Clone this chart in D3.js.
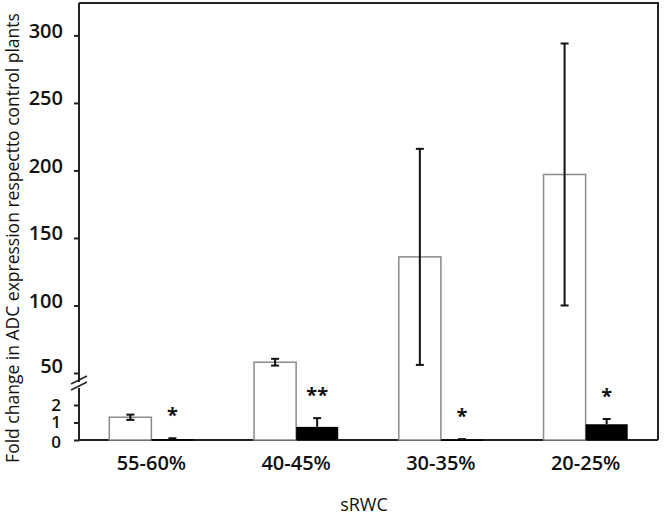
<!DOCTYPE html>
<html>
<head>
<meta charset="utf-8">
<script src="https://cdn.jsdelivr.net/npm/d3@7"></script>
<style>
  html, body { margin: 0; padding: 0; background: #fff; }
  svg text { font-family: "Open Sans", "DejaVu Sans", sans-serif; fill: #111; }
</style>
</head>
<body>
<div id="chart"></div>
<script>
// ── Data ─────────────────────────────────────────
const categories   = ["55-60%", "40-45%", "30-35%", "20-25%"];
const series       = ["control", "treated"];
const controlMean  = [1.3, 58, 136, 197];
const controlErr   = [0.15, 2.5, 80, 97];
const treatedMean  = [0.05, 0.75, 0.03, 0.9];
const treatedErr   = [0.05, 0.5, 0.02, 0.3];
const signif       = ["*", "**", "*", "*"];
const lowTicks     = [0, 1, 2];
const highTicks    = [50, 100, 150, 200, 250, 300];

// ── Layout ───────────────────────────────────────
const W = 664, H = 519;
const mLeft = 79, mRight = 658, mTop = 3, base = 440;

const svg = d3.select("#chart").append("svg")
  .attr("width", W).attr("height", H);

const x = d3.scaleBand().domain(categories).range([mLeft, mRight]).padding(0);
const xs = d3.scaleBand().domain(series).range([0, x.bandwidth()])
  .paddingInner(0).paddingOuter(0.72);

// broken y axis: two linear pieces
const yLow  = d3.scaleLinear().domain([0, 2]).range([base, 405]);
const yHigh = d3.scaleLinear().domain([50, 324]).range([373, mTop]);
const y = v => v <= 2.5 ? yLow(v) : yHigh(v);

// frame (top + right)
svg.append("path")
  .attr("d", `M${mLeft},${mTop}H${mRight}V${base}`)
  .attr("fill", "none").attr("stroke", "#222").attr("stroke-width", 2);

// axes
const axLow = svg.append("g").attr("transform", `translate(${mLeft},0)`)
  .call(d3.axisLeft(yLow).tickValues(lowTicks).tickSize(5).tickPadding(13).tickFormat(d3.format("d")));
axLow.select(".domain").attr("d", `M0,${base}V388`);
axLow.selectAll("text").attr("font-size", 17).attr("font-weight", 600);
axLow.selectAll(".tick").filter(d => d === 0).select("text").attr("dy", "0.45em");

const axHigh = svg.append("g").attr("transform", `translate(${mLeft},0)`)
  .call(d3.axisLeft(yHigh).tickValues(highTicks).tickSize(5).tickPadding(11).tickFormat(d3.format("d")));
axHigh.select(".domain").attr("d", `M0,${mTop}V382`);
axHigh.selectAll("text").attr("font-size", 20).attr("font-weight", 600).attr("dy", "0.1em");
axHigh.selectAll(".tick").filter(d => d === 50).select("text").attr("dy", "-0.05em");

svg.selectAll(".domain, .tick line").attr("stroke", "#222").attr("stroke-width", 2);

// break marks
[0, 6].forEach(off => {
  svg.append("line")
    .attr("x1", mLeft - 8).attr("y1", 390 - off)
    .attr("x2", mLeft + 8).attr("y2", 382 - off)
    .attr("stroke", "#222").attr("stroke-width", 1.5);
});

// baseline
svg.append("line")
  .attr("x1", mLeft).attr("x2", mRight).attr("y1", base).attr("y2", base)
  .attr("stroke", "#222").attr("stroke-width", 2);

// ── Bars ─────────────────────────────────────────
const rows = categories.map((c, i) => ({
  cat: c, cm: controlMean[i], ce: controlErr[i],
  tm: treatedMean[i], te: treatedErr[i], sig: signif[i]
}));

const g = svg.selectAll(".grp").data(rows).enter().append("g")
  .attr("transform", d => `translate(${x(d.cat)},0)`);

g.append("rect")
  .attr("x", xs("control")).attr("width", xs.bandwidth())
  .attr("y", d => y(d.cm)).attr("height", d => base - y(d.cm))
  .attr("fill", "#fff").attr("stroke", "#8a8a8a").attr("stroke-width", 1.5);

g.append("rect")
  .attr("x", xs("treated")).attr("width", xs.bandwidth())
  .attr("y", d => y(d.tm)).attr("height", d => Math.max(1.5, base - y(d.tm)))
  .attr("fill", "#000");

// error bars
function errBar(sel, key, mean, err, both) {
  const cx = xs(key) + xs.bandwidth() / 2;
  sel.each(function(d) {
    const gg = d3.select(this);
    const yt = y(d[mean] + d[err]);
    const yb = both ? y(d[mean] - d[err]) : y(d[mean]);
    gg.append("line").attr("x1", cx).attr("x2", cx).attr("y1", yt).attr("y2", yb)
      .attr("stroke", "#111").attr("stroke-width", 2);
    gg.append("line").attr("x1", cx - 4).attr("x2", cx + 4).attr("y1", yt).attr("y2", yt)
      .attr("stroke", "#111").attr("stroke-width", 2);
    if (both) gg.append("line").attr("x1", cx - 4).attr("x2", cx + 4).attr("y1", yb).attr("y2", yb)
      .attr("stroke", "#111").attr("stroke-width", 2);
  });
}
errBar(g, "control", "cm", "ce", true);
errBar(g, "treated", "tm", "te", false);

// significance stars
g.append("text")
  .attr("x", xs("treated") + xs.bandwidth() / 2)
  .attr("y", d => y(d.tm + d.te) - 16)
  .attr("text-anchor", "middle")
  .attr("font-size", 20).attr("font-weight", "bold")
  .text(d => d.sig);

// ── Labels ───────────────────────────────────────
svg.selectAll(".cat").data(categories).enter().append("text")
  .attr("x", d => x(d) + x.bandwidth() / 2)
  .attr("y", 470)
  .attr("text-anchor", "middle")
  .attr("font-size", 20).attr("font-weight", 600)
  .text(d => d);

svg.append("text")
  .attr("x", 364).attr("y", 511)
  .attr("text-anchor", "middle").attr("font-size", 18)
  .text("sRWC");

svg.append("text")
  .attr("transform", "translate(19,238) rotate(-90)")
  .attr("text-anchor", "middle").attr("font-size", 17.5)
  .text("Fold change in ADC expression respectto control plants");
</script>
</body>
</html>
